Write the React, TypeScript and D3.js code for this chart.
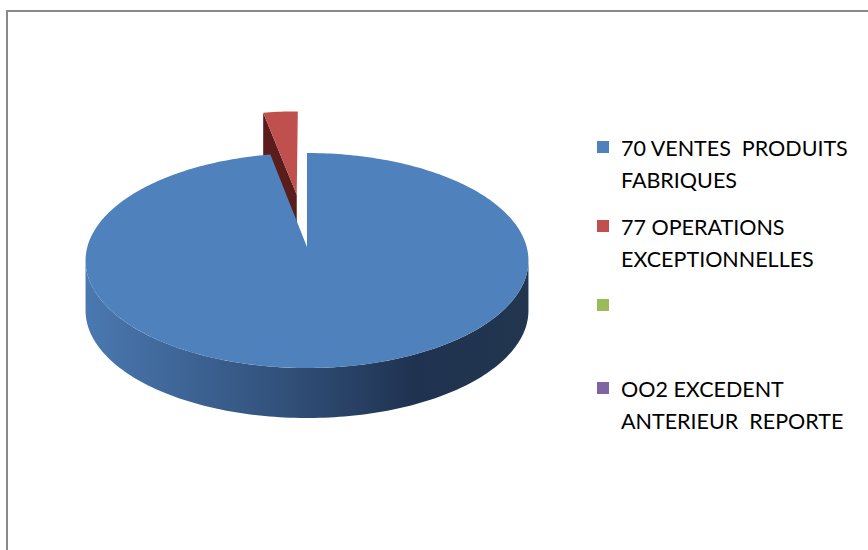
import React from 'react';
import * as d3 from 'd3';

// chart values (shares in %)
const categories = [
  '70 VENTES  PRODUITS FABRIQUES',
  '77 OPERATIONS EXCEPTIONNELLES',
  '',
  'OO2 EXCEDENT ANTERIEUR  REPORTE',
];
const legendLines = [
  ['70 VENTES  PRODUITS', 'FABRIQUES'],
  ['77 OPERATIONS', 'EXCEPTIONNELLES'],
  [''],
  ['OO2 EXCEDENT', 'ANTERIEUR  REPORTE'],
];
const values = [97, 3, 0, 0];
const explode = [0, 0.53, 0, 0];
const colors = ['#4f81bd', '#c0504d', '#9bbb59', '#8064a2'];
const wallColors = ['#2d4a6e', '#5a1d1c', '#5e7a30', '#4b3a63'];

const W = 868;
const H = 550;
const cx = 307;
const cy = 247;
const rx = 219.7;
const ry = 105.8;
const persp = 0.1256; // front of the disc looks bigger than the back
const depth = 50;

// disc coords (u right, v toward viewer) -> screen, with a little perspective
const proj = (u: number, v: number, dz = 0) => {
  const k = 1 - persp * v;
  return [cx + (rx * u) / k, cy + (ry * v) / k + dz] as [number, number];
};

export default function App() {
  const pie = d3.pie<number>().sort(null).startAngle(0).endAngle(2 * Math.PI);
  const arcs = pie(values);

  const pt = (a: number, r: number, ox: number, oy: number, dz = 0) =>
    proj(r * Math.sin(a) + ox, -r * Math.cos(a) + oy, dz);

  const line = d3.line();

  const arcPts = (a0: number, a1: number, ox: number, oy: number, dz = 0) => {
    const n = Math.max(2, Math.ceil(Math.abs(a1 - a0) / 0.02));
    return d3.range(n + 1).map(i => pt(a0 + ((a1 - a0) * i) / n, 1, ox, oy, dz));
  };

  // angles where the side of the disc turns from hidden to visible
  const sideFrom = Math.acos(-persp);
  const sideTo = 2 * Math.PI - sideFrom;

  const walls: JSX.Element[] = [];
  const sides: JSX.Element[] = [];
  const tops: JSX.Element[] = [];

  arcs.forEach((d, i) => {
    if (d.endAngle - d.startAngle < 1e-6) return;
    const mid = (d.startAngle + d.endAngle) / 2;
    const ox = explode[i] * Math.sin(mid);
    const oy = -explode[i] * Math.cos(mid);
    const c = pt(0, 0, ox, oy);

    // radial wall on the start edge (seen for the small exploded slice)
    if (i > 0) {
      const o = pt(d.startAngle, 1, ox, oy);
      const quad = [o, c, [c[0], c[1] + depth], [o[0], o[1] + depth]] as [number, number][];
      walls.push(<path key={'w' + i} d={line(quad) + 'Z'} fill={wallColors[i]} />);
    }

    // front outer side
    const s0 = Math.max(d.startAngle, sideFrom);
    const s1 = Math.min(d.endAngle, sideTo);
    if (s1 > s0) {
      const topArc = arcPts(s0, s1, ox, oy);
      const botArc = arcPts(s1, s0, ox, oy, depth);
      sides.push(
        <path key={'s' + i} d={line([...topArc, ...botArc]) + 'Z'} fill={`url(#side${i})`} />
      );
    }

    const face = [c, ...arcPts(d.startAngle, d.endAngle, ox, oy)];
    tops.push(<path key={'t' + i} d={line(face) + 'Z'} fill={colors[i]} />);
  });

  const legendX = 597;
  const legendTops = [141, 220, 299, 382];

  return (
    <svg width={W} height={H} style={{ position: 'absolute', left: 0, top: 0 }}>
      <defs>
        <linearGradient id="side0" x1={cx - rx} x2={cx + rx} y1={0} y2={0} gradientUnits="userSpaceOnUse">
          <stop offset="0" stopColor="#4a78b0" />
          <stop offset="0.45" stopColor="#31507a" />
          <stop offset="0.75" stopColor="#1f3250" />
          <stop offset="1" stopColor="#22364f" />
        </linearGradient>
      </defs>
      <rect x={0} y={0} width={W} height={H} fill="#fff" />
      <path d={`M7,${H}V11H${W}`} fill="none" stroke="#8a8a8a" strokeWidth={2} />
      {walls}
      {tops.slice(1)}
      {sides}
      {tops[0]}
      <g fontFamily="Lato, Calibri, sans-serif" fontSize={21.5} fill="#000">
        {categories.map((name, i) => (
          <g key={name + i}>
            <rect x={legendX} y={legendTops[i]} width={12} height={12} fill={colors[i]} />
            {legendLines[i].map((t, j) => (
              <text key={j} x={621} y={legendTops[i] + 15 + j * 32} style={{ whiteSpace: 'pre' }}>
                {t}
              </text>
            ))}
          </g>
        ))}
      </g>
    </svg>
  );
}
